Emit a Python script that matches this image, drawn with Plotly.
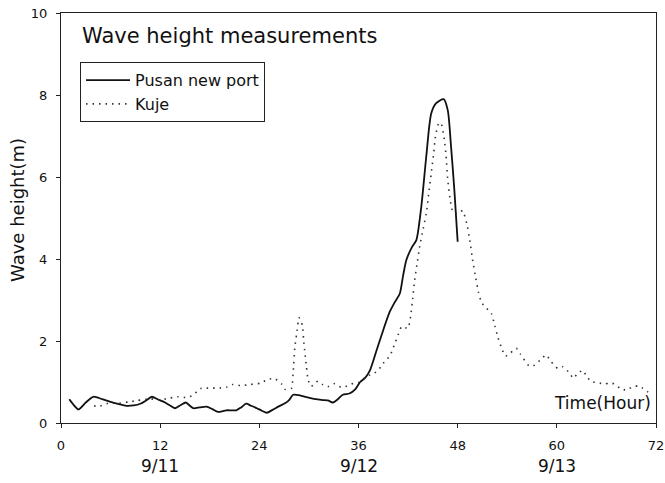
import plotly.graph_objects as go

# Pusan new port (solid line) — hours, wave height (m)
pusan_hours = [1.0, 1.5, 2.1, 3.0, 3.9, 5.0, 5.9, 7.0, 7.9, 8.8, 9.6, 10.3, 11.0, 11.7, 12.4,
               13.1, 13.8, 14.5, 15.1, 15.6, 16.0, 16.8, 17.6, 18.3, 19.0, 20.0, 21.2, 21.8,
               22.4, 23.0, 23.7, 24.3, 24.9, 25.6, 26.3, 27.1, 27.6, 28.1, 28.8, 29.7, 30.6,
               31.7, 32.3, 32.9, 33.5, 34.1, 34.9, 35.6, 36.2, 36.8, 37.4, 38.2, 39.0, 39.8,
               40.4, 41.0, 41.4, 41.8, 42.5, 43.0, 43.6, 44.2, 44.8, 45.4, 46.3, 46.8, 47.2,
               47.6, 48.0]
pusan_height = [0.58, 0.45, 0.33, 0.50, 0.64, 0.58, 0.52, 0.46, 0.42, 0.43, 0.47, 0.55, 0.64,
                0.58, 0.52, 0.44, 0.36, 0.44, 0.50, 0.42, 0.36, 0.38, 0.40, 0.34, 0.27, 0.31,
                0.31, 0.38, 0.47, 0.42, 0.36, 0.30, 0.25, 0.32, 0.40, 0.48, 0.56, 0.69, 0.68,
                0.63, 0.59, 0.56, 0.55, 0.50, 0.58, 0.69, 0.72, 0.82, 1.00, 1.10, 1.29, 1.78,
                2.27, 2.72, 2.95, 3.16, 3.60, 3.98, 4.30, 4.46, 5.28, 6.50, 7.55, 7.80, 7.90,
                7.63, 6.74, 5.68, 4.42]

# Kuje (dotted line)
kuje_hours = [4.0, 4.5, 5.7, 6.9, 8.1, 9.3, 10.8, 12.0, 13.2, 14.2, 15.2, 16.0, 16.6, 17.0,
              18.0, 19.0, 20.0, 20.8, 21.8, 22.9, 24.1, 25.1, 25.9, 26.7, 27.1, 27.9, 28.1,
              28.3, 28.5, 28.8, 29.2, 29.4, 29.7, 29.9, 30.3, 30.7, 31.1, 31.7, 32.4, 33.1,
              33.9, 34.6, 35.4, 36.0, 36.8, 37.4, 38.2, 38.7, 39.2, 39.8, 40.1, 40.4, 40.7,
              41.2, 42.0, 42.3, 42.5, 42.8, 43.1, 43.4, 43.8, 44.2, 44.5, 44.8, 45.1, 45.3,
              45.7, 46.0, 46.4, 46.6, 46.8, 47.1, 47.4, 48.0, 48.6, 49.1, 49.5, 49.8, 50.2,
              50.5, 50.9, 51.5, 52.1, 52.5, 52.9, 53.4, 53.8, 54.4, 55.1, 55.6, 56.6, 57.3,
              58.0, 58.7, 59.3, 60.1, 60.7, 61.5, 62.0, 62.6, 63.2, 63.6, 64.2, 65.0, 65.8,
              66.4, 67.0, 67.6, 68.4, 69.2, 69.8, 70.4, 71.0, 71.5]
kuje_height = [0.42, 0.40, 0.48, 0.48, 0.51, 0.55, 0.59, 0.56, 0.61, 0.64, 0.62, 0.68, 0.80,
               0.85, 0.85, 0.85, 0.87, 0.94, 0.91, 0.94, 0.97, 1.07, 1.08, 0.95, 0.82, 0.85,
               1.25, 1.86, 2.15, 2.57, 2.39, 1.94, 1.37, 1.05, 0.89, 0.98, 1.02, 0.93, 0.89,
               0.96, 0.87, 0.90, 0.97, 0.99, 1.11, 1.17, 1.25, 1.37, 1.51, 1.63, 1.78, 1.94,
               2.09, 2.35, 2.31, 2.59, 2.92, 3.49, 3.90, 4.30, 4.71, 5.11, 5.60, 6.09, 6.58,
               6.98, 7.31, 7.31, 6.90, 6.50, 5.93, 5.44, 5.15, 5.10, 5.18, 4.87, 4.42, 3.98,
               3.53, 3.20, 2.93, 2.80, 2.66, 2.37, 2.07, 1.78, 1.63, 1.71, 1.82, 1.68, 1.40,
               1.41, 1.54, 1.66, 1.50, 1.33, 1.37, 1.23, 1.09, 1.23, 1.28, 1.13, 1.01, 0.98,
               0.95, 0.98, 0.95, 0.85, 0.80, 0.89, 0.90, 0.85, 0.76, 0.70]

x_ticks = [0, 12, 24, 36, 48, 60, 72]
y_ticks = [0, 2, 4, 6, 8, 10]
date_positions = [12, 36, 60]
date_labels = ["9/11", "9/12", "9/13"]

FONT = "DejaVu Sans"

fig = go.Figure()
fig.add_trace(go.Scatter(x=pusan_hours, y=pusan_height, mode="lines", name="Pusan new port",
                         line=dict(color="#111111", width=1.8, shape="spline", smoothing=0.7)))
fig.add_trace(go.Scatter(x=kuje_hours, y=kuje_height, mode="lines", name="Kuje",
                         line=dict(color="#333333", width=1.6, dash="1.5px,5px",
                                   shape="spline", smoothing=0.4)))

fig.add_annotation(x=2.3, y=9.45, xref="x", yref="y", text="Wave height measurements",
                   showarrow=False, xanchor="left", yanchor="middle",
                   font=dict(family=FONT, size=21, color="#111111"))
fig.add_annotation(x=71.6, y=0.5, xref="x", yref="y", text="Time(Hour)",
                   showarrow=False, xanchor="right", yanchor="middle",
                   font=dict(family=FONT, size=17, color="#111111"))
fig.add_annotation(x=-0.072, y=0.52, xref="paper", yref="paper", text="Wave height(m)",
                   showarrow=False, xanchor="center", yanchor="middle", textangle=-90,
                   font=dict(family=FONT, size=18, color="#111111"))
for xp, lab in zip(date_positions, date_labels):
    fig.add_annotation(x=xp, y=-0.105, xref="x", yref="paper", text=lab,
                       showarrow=False, xanchor="center", yanchor="middle",
                       font=dict(family=FONT, size=17, color="#111111"))

fig.update_layout(
    width=665, height=483,
    margin=dict(l=61, r=9, t=13, b=60, autoexpand=False),
    paper_bgcolor="white", plot_bgcolor="white",
    font=dict(family=FONT, color="#111111"),
    showlegend=True,
    legend=dict(x=0.032, y=0.88, xanchor="left", yanchor="top",
                bgcolor="white", bordercolor="#222222", borderwidth=1,
                font=dict(family=FONT, size=16, color="#111111"),
                tracegroupgap=0, itemwidth=44),
    xaxis=dict(range=[0, 72], tickvals=x_ticks, ticktext=[str(v) for v in x_ticks],
               showgrid=False, zeroline=False, showline=True, linecolor="#222222",
               linewidth=1, mirror=True, ticks="outside", ticklen=4, tickcolor="#222222",
               tickfont=dict(family=FONT, size=13, color="#111111"), ticklabelstandoff=6,
               ticklabeloverflow="allow", automargin=False),
    yaxis=dict(range=[0, 10], tickvals=y_ticks, ticktext=[str(v) for v in y_ticks],
               showgrid=False, zeroline=False, showline=True, linecolor="#222222",
               linewidth=1, mirror=True, ticks="outside", ticklen=4, tickcolor="#222222",
               tickfont=dict(family=FONT, size=13, color="#111111"), ticklabelstandoff=6,
               ticklabeloverflow="allow", automargin=False),
)

# remove the browser's default page margin so the 665x483 figure fills the window exactly
fig.write_html("out.html", config={"displayModeBar": False},
               post_script="document.body.style.margin='0px';document.body.style.overflow='hidden';")
